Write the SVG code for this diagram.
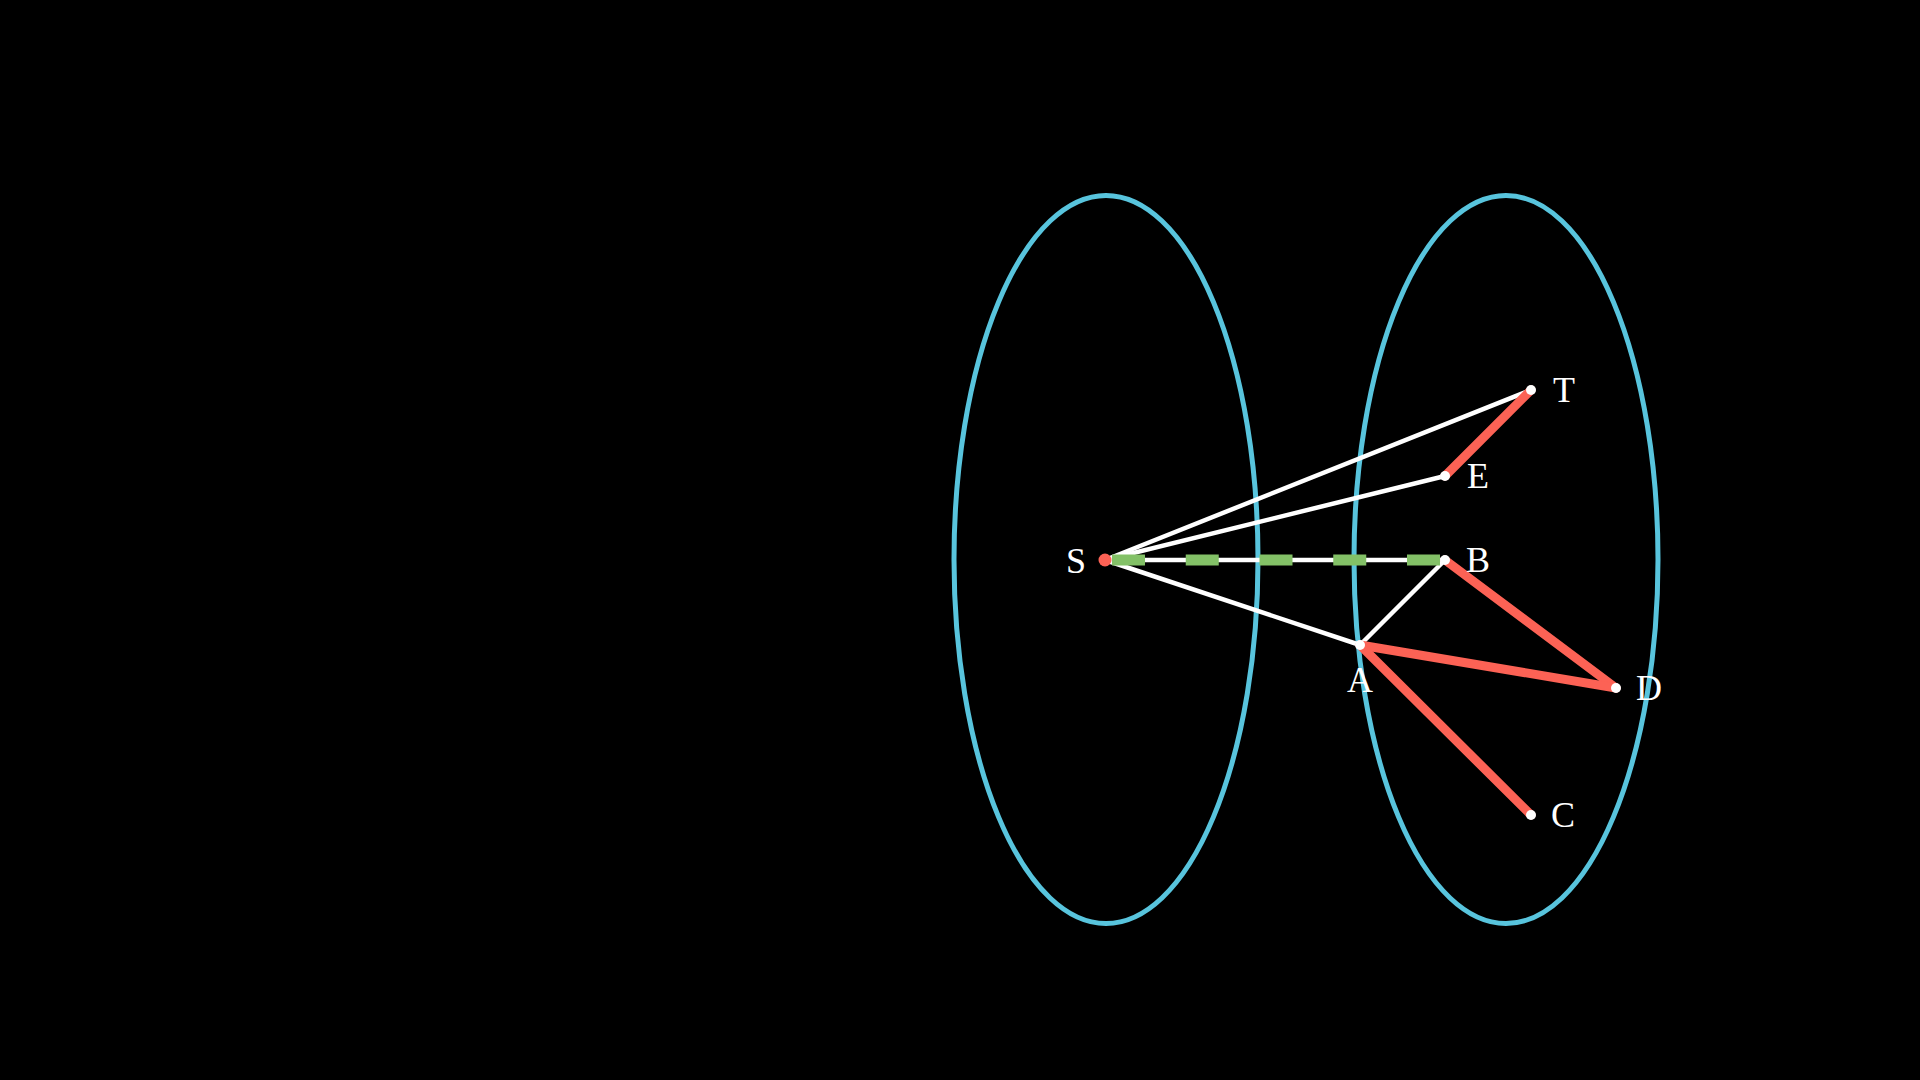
<svg xmlns="http://www.w3.org/2000/svg" width="1920" height="1080" viewBox="0 0 1920 1080">
<style>
.set{fill:none;stroke:#58C4DD;stroke-width:5}
.w{stroke:#FFFFFF;stroke-width:4.5;stroke-linecap:round}
.r{stroke:#FC6255;stroke-width:9;stroke-linecap:round}
.g{stroke:#83C167;stroke-width:11;stroke-dasharray:33 40.75}
.lbl{font-family:"Liberation Serif","DejaVu Serif",serif;font-size:36px;fill:#FFFFFF;text-anchor:middle}
.dot{fill:#FFFFFF}
</style>
<rect width="1920" height="1080" fill="#000000"/>
<g id="set-left"><ellipse class="set" cx="1106" cy="559.5" rx="152" ry="364"/></g>
<g id="set-right"><ellipse class="set" cx="1506" cy="559.5" rx="152" ry="364"/></g>
<g id="connectors">
<line class="w" x1="1105" y1="560" x2="1531" y2="390"/>
<line class="w" x1="1105" y1="560" x2="1445" y2="476"/>
<line class="w" x1="1105" y1="560" x2="1445" y2="560"/>
<line class="w" x1="1105" y1="560" x2="1360" y2="645"/>
<line class="w" x1="1360" y1="645" x2="1445" y2="560"/>
<line class="r" x1="1531" y1="390" x2="1445" y2="476"/>
<line class="r" x1="1445" y1="560" x2="1616" y2="688"/>
<line class="r" x1="1360" y1="645" x2="1616" y2="688"/>
<line class="r" x1="1360" y1="645" x2="1531" y2="815"/>
<line class="g" x1="1112" y1="560" x2="1440" y2="560"/>
</g>
<g id="node-S"><circle cx="1105" cy="560" r="6.5" fill="#FC6255"/><text class="lbl" x="1076" y="573">S</text></g>
<g id="node-T"><circle class="dot" cx="1531" cy="390" r="5"/><text class="lbl" x="1564" y="402">T</text></g>
<g id="node-E"><circle class="dot" cx="1445" cy="476" r="5"/><text class="lbl" x="1478" y="488">E</text></g>
<g id="node-B"><circle class="dot" cx="1445" cy="560" r="5"/><text class="lbl" x="1478" y="572">B</text></g>
<g id="node-A"><circle class="dot" cx="1360" cy="645" r="5"/><text class="lbl" x="1360" y="692">A</text></g>
<g id="node-D"><circle class="dot" cx="1616" cy="688" r="5"/><text class="lbl" x="1649" y="700">D</text></g>
<g id="node-C"><circle class="dot" cx="1531" cy="815" r="5"/><text class="lbl" x="1563" y="827">C</text></g>
</svg>
